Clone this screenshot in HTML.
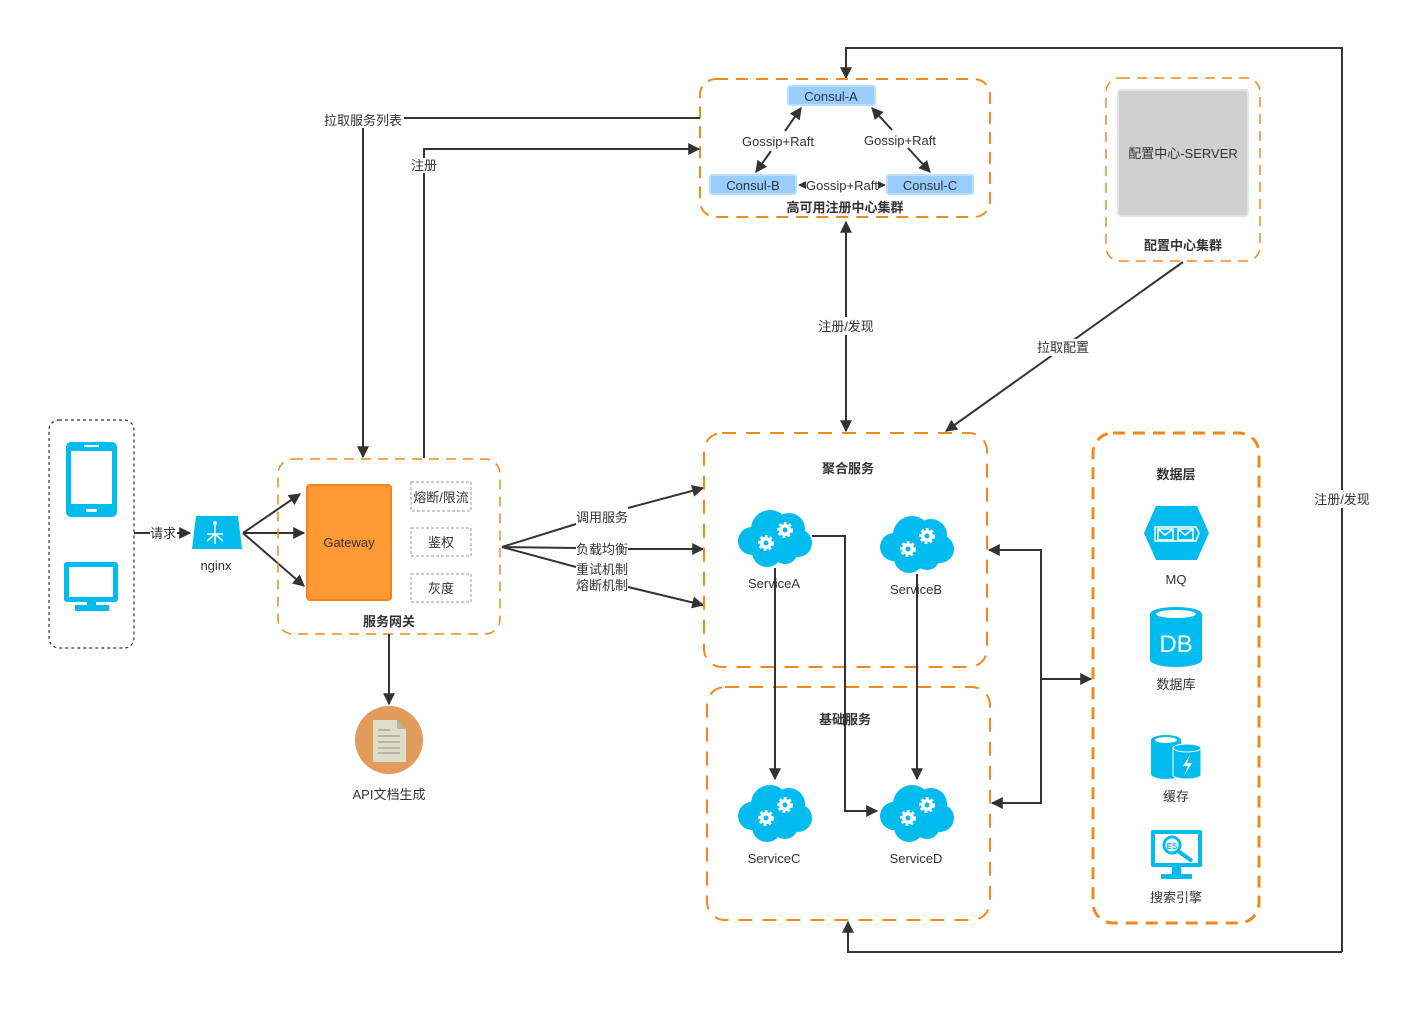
<!DOCTYPE html>
<html><head><meta charset="utf-8"><style>
html,body{margin:0;padding:0;background:#fff;}
svg{display:block;}
text{font-family:"Liberation Sans","Noto Sans CJK SC",sans-serif;font-size:13px;fill:#333;}
.b{font-weight:bold;}
</style></head><body>
<svg width="1404" height="1015" viewBox="0 0 1404 1015" xmlns="http://www.w3.org/2000/svg">
<defs>
<marker id="ar" viewBox="0 0 10 10" refX="9" refY="5" markerWidth="8" markerHeight="8" orient="auto-start-reverse" markerUnits="userSpaceOnUse">
<path d="M0,0 L10,5 L0,10 z" fill="#333"/></marker>
<marker id="ar2" viewBox="0 0 10 10" refX="9" refY="5" markerWidth="16" markerHeight="12" orient="auto-start-reverse" markerUnits="userSpaceOnUse">
<path d="M0,0 L10,5 L0,10 z" fill="#333"/></marker>
<g id="cloud">
<circle cx="15" cy="36" r="14" fill="#00bbee"/>
<circle cx="33" cy="24" r="19" fill="#00bbee"/>
<circle cx="52" cy="24" r="16" fill="#00bbee"/>
<circle cx="61" cy="38" r="14" fill="#00bbee"/>
<circle cx="30" cy="47" r="15" fill="#00bbee"/>
<circle cx="48" cy="46" r="13" fill="#00bbee"/>
<circle cx="29" cy="38" r="6" fill="#fff" stroke="#fff" stroke-width="4" stroke-dasharray="2.5 2"/>
<circle cx="29" cy="38" r="2.5" fill="#00bbee"/>
<circle cx="48" cy="25" r="6" fill="#fff" stroke="#fff" stroke-width="4" stroke-dasharray="2.5 2"/>
<circle cx="48" cy="25" r="2.5" fill="#00bbee"/>
</g>
</defs>

<!-- outer registration loop -->
<polyline points="1342,952 1342,48 846,48 846,78" fill="none" stroke="#333" stroke-width="2" marker-end="url(#ar2)"/>
<polyline points="1342,952 848,952 848,922" fill="none" stroke="#333" stroke-width="2" marker-end="url(#ar2)"/>
<rect x="1310" y="490" width="64" height="18" fill="#fff"/>
<text x="1342" y="504" text-anchor="middle">注册/发现</text>

<!-- consul cluster -->
<rect x="700" y="79" width="290" height="138" rx="16" fill="none" stroke="#f08a1c" stroke-width="2" stroke-dasharray="12 8"/>
<rect x="788" y="86" width="87" height="19" rx="2" fill="#99ccff" stroke="#bbdfff" stroke-width="2"/>
<text x="831" y="101" text-anchor="middle">Consul-A</text>
<rect x="710" y="175" width="86" height="19" rx="2" fill="#99ccff" stroke="#bbdfff" stroke-width="2"/>
<text x="753" y="190" text-anchor="middle">Consul-B</text>
<rect x="887" y="175" width="86" height="19" rx="2" fill="#99ccff" stroke="#bbdfff" stroke-width="2"/>
<text x="930" y="190" text-anchor="middle">Consul-C</text>
<line x1="785" y1="131" x2="801" y2="108" stroke="#333" stroke-width="2" marker-end="url(#ar2)"/>
<line x1="771" y1="151" x2="756" y2="172" stroke="#333" stroke-width="2" marker-end="url(#ar2)"/>
<text x="778" y="146" text-anchor="middle">Gossip+Raft</text>
<line x1="892" y1="130" x2="872" y2="108" stroke="#333" stroke-width="2" marker-end="url(#ar2)"/>
<line x1="908" y1="148" x2="930" y2="172" stroke="#333" stroke-width="2" marker-end="url(#ar2)"/>
<text x="900" y="145" text-anchor="middle">Gossip+Raft</text>
<line x1="803" y1="185" x2="799" y2="185" stroke="#333" stroke-width="1.5" marker-end="url(#ar)"/>
<line x1="880" y1="185" x2="885" y2="185" stroke="#333" stroke-width="1.5" marker-end="url(#ar)"/>
<text x="842" y="190" text-anchor="middle">Gossip+Raft</text>
<text x="845" y="212" text-anchor="middle" class="b">高可用注册中心集群</text>

<!-- config center -->
<rect x="1106" y="78" width="154" height="183" rx="14" fill="none" stroke="#f08a1c" stroke-width="1.5" stroke-dasharray="10 7"/>
<rect x="1118" y="90" width="130" height="126" rx="3" fill="#d0d0d0" stroke="#e4e4e4" stroke-width="2"/>
<text x="1183" y="158" text-anchor="middle">配置中心-SERVER</text>
<text x="1183" y="250" text-anchor="middle" class="b">配置中心集群</text>
<line x1="1183" y1="262" x2="946" y2="431" stroke="#333" stroke-width="2" marker-end="url(#ar2)"/>
<rect x="1036" y="339" width="56" height="17" fill="#fff"/>
<text x="1063" y="352" text-anchor="middle">拉取配置</text>

<!-- register/discover vertical -->
<line x1="846" y1="222" x2="846" y2="431" stroke="#333" stroke-width="2" marker-start="url(#ar2)" marker-end="url(#ar2)"/>
<rect x="815" y="317" width="62" height="18" fill="#fff"/>
<text x="846" y="331" text-anchor="middle">注册/发现</text>

<!-- pull service list / register -->
<polyline points="700,118 404,118" fill="none" stroke="#333" stroke-width="2"/>
<line x1="363" y1="128" x2="363" y2="457" stroke="#333" stroke-width="2" marker-end="url(#ar2)"/>
<text x="363" y="125" text-anchor="middle">拉取服务列表</text>
<polyline points="424,458 424,173" fill="none" stroke="#333" stroke-width="2"/>
<polyline points="424,158 424,149 699,149" fill="none" stroke="#333" stroke-width="2" marker-end="url(#ar2)"/>
<text x="424" y="170" text-anchor="middle">注册</text>

<!-- devices -->
<rect x="49" y="420" width="85" height="228" rx="10" fill="none" stroke="#333" stroke-width="1.2" stroke-dasharray="3 3"/>
<rect x="66" y="442" width="51" height="75" rx="5" fill="#00bbee"/>
<rect x="71" y="451" width="41" height="53" fill="#fff"/>
<rect x="84" y="445" width="15" height="2" fill="#fff"/>
<rect x="86" y="509" width="11" height="3" rx="1" fill="#fff"/>
<rect x="64" y="562" width="54" height="40" rx="3" fill="#00bbee"/>
<rect x="69" y="567" width="44" height="30" fill="#fff"/>
<rect x="87" y="601" width="9" height="5" fill="#00bbee"/>
<rect x="75" y="605" width="34" height="6" fill="#00bbee"/>

<line x1="134" y1="533" x2="190" y2="533" stroke="#333" stroke-width="2" marker-end="url(#ar2)"/>
<rect x="150" y="525" width="27" height="17" fill="#fff"/>
<text x="163" y="538" text-anchor="middle">请求</text>

<!-- nginx -->
<path d="M196,516 L238,516 L242,549 L192,549 Z" fill="#00bbee"/>
<g stroke="#fff" stroke-width="1.5" fill="none">
<line x1="215" y1="524" x2="215" y2="544"/>
<line x1="215" y1="534" x2="207" y2="541"/>
<line x1="215" y1="534" x2="223" y2="541"/>
<line x1="215" y1="534" x2="207" y2="534"/>
<line x1="215" y1="534" x2="223" y2="534"/>
</g>
<circle cx="215" cy="523" r="2" fill="#fff"/>
<text x="216" y="570" text-anchor="middle">nginx</text>

<line x1="243" y1="533" x2="300" y2="494" stroke="#333" stroke-width="2" marker-end="url(#ar2)"/>
<line x1="243" y1="533" x2="304" y2="533" stroke="#333" stroke-width="2" marker-end="url(#ar2)"/>
<line x1="243" y1="533" x2="304" y2="586" stroke="#333" stroke-width="2" marker-end="url(#ar2)"/>

<!-- gateway -->
<rect x="278" y="459" width="222" height="175" rx="15" fill="none" stroke="#f08a1c" stroke-width="1.5" stroke-dasharray="10 7"/>
<rect x="307" y="485" width="84" height="115" rx="3" fill="#ff9933" stroke="#f5841c" stroke-width="2"/>
<text x="349" y="547" text-anchor="middle">Gateway</text>
<rect x="411" y="482" width="60" height="29" fill="none" stroke="#999" stroke-dasharray="3 2"/>
<text x="441" y="502" text-anchor="middle">熔断/限流</text>
<rect x="411" y="528" width="60" height="28" fill="none" stroke="#999" stroke-dasharray="3 2"/>
<text x="441" y="547" text-anchor="middle">鉴权</text>
<rect x="411" y="574" width="60" height="28" fill="none" stroke="#999" stroke-dasharray="3 2"/>
<text x="441" y="593" text-anchor="middle">灰度</text>
<text x="389" y="626" text-anchor="middle" class="b">服务网关</text>

<line x1="389" y1="634" x2="389" y2="704" stroke="#333" stroke-width="2" marker-end="url(#ar2)"/>
<circle cx="389" cy="740" r="34" fill="#e39b5c"/>
<path d="M373,720 L397,720 L406,729 L406,762 L373,762 Z" fill="#deddca"/>
<path d="M397,720 L406,729 L397,729 Z" fill="#b5b4a0"/>
<g stroke="#a9a895" stroke-width="1.5"><line x1="378" y1="730" x2="390" y2="730"/><line x1="378" y1="736" x2="400" y2="736"/><line x1="378" y1="742" x2="400" y2="742"/><line x1="378" y1="748" x2="400" y2="748"/><line x1="378" y1="753" x2="400" y2="753"/></g>
<text x="389" y="799" text-anchor="middle">API文档生成</text>

<!-- gateway to services -->
<polyline points="502,547 576,524" fill="none" stroke="#333" stroke-width="2"/>
<line x1="628" y1="508" x2="703" y2="488" stroke="#333" stroke-width="2" marker-end="url(#ar2)"/>
<text x="602" y="522" text-anchor="middle">调用服务</text>
<line x1="502" y1="547" x2="576" y2="548" stroke="#333" stroke-width="2"/>
<line x1="628" y1="549" x2="703" y2="549" stroke="#333" stroke-width="2" marker-end="url(#ar2)"/>
<text x="602" y="554" text-anchor="middle">负载均衡</text>
<line x1="502" y1="547" x2="576" y2="567" stroke="#333" stroke-width="2"/>
<line x1="628" y1="587" x2="703" y2="605" stroke="#333" stroke-width="2" marker-end="url(#ar2)"/>
<text x="602" y="574" text-anchor="middle">重试机制</text>
<text x="602" y="590" text-anchor="middle">熔断机制</text>

<!-- service boxes -->
<rect x="704" y="433" width="283" height="234" rx="18" fill="none" stroke="#f08a1c" stroke-width="2" stroke-dasharray="14 10"/>
<text x="848" y="473" text-anchor="middle" class="b">聚合服务</text>
<rect x="707" y="687" width="283" height="233" rx="18" fill="none" stroke="#f08a1c" stroke-width="2" stroke-dasharray="14 10"/>
<text x="845" y="724" text-anchor="middle" class="b">基础服务</text>

<use href="#cloud" x="737" y="505"/>
<text x="774" y="588" text-anchor="middle">ServiceA</text>
<use href="#cloud" x="879" y="511"/>
<text x="916" y="594" text-anchor="middle">ServiceB</text>
<use href="#cloud" x="737" y="780"/>
<text x="774" y="863" text-anchor="middle">ServiceC</text>
<use href="#cloud" x="879" y="780"/>
<text x="916" y="863" text-anchor="middle">ServiceD</text>

<line x1="775" y1="568" x2="775" y2="779" stroke="#333" stroke-width="2" marker-end="url(#ar2)"/>
<polyline points="812,536 845,536 845,811 877,811" fill="none" stroke="#333" stroke-width="2" marker-end="url(#ar2)"/>
<line x1="917" y1="574" x2="917" y2="779" stroke="#333" stroke-width="2" marker-end="url(#ar2)"/>

<!-- right connectors -->
<polyline points="1041,679 1041,550 989,550" fill="none" stroke="#333" stroke-width="2" marker-end="url(#ar2)"/>
<polyline points="1041,679 1041,803 992,803" fill="none" stroke="#333" stroke-width="2" marker-end="url(#ar2)"/>
<line x1="1041" y1="679" x2="1091" y2="679" stroke="#333" stroke-width="2" marker-end="url(#ar2)"/>

<!-- data layer -->
<rect x="1093" y="433" width="166" height="490" rx="20" fill="none" stroke="#f08a1c" stroke-width="3" stroke-dasharray="12 8"/>
<text x="1176" y="479" text-anchor="middle" class="b">数据层</text>
<path d="M1156,506 L1197,506 L1209,533 L1197,560 L1156,560 L1144,533 Z" fill="#00bbee"/>
<path d="M1155,527 L1196,527 L1199,533 L1196,541 L1155,541 Z" fill="none" stroke="#fff" stroke-width="1.5"/>
<rect x="1158" y="529" width="15" height="11" fill="none" stroke="#fff" stroke-width="1.5"/>
<rect x="1178" y="529" width="15" height="11" fill="none" stroke="#fff" stroke-width="1.5"/>
<polyline points="1158,529 1165,535 1173,529" fill="none" stroke="#fff" stroke-width="1.5"/>
<polyline points="1178,529 1185,535 1193,529" fill="none" stroke="#fff" stroke-width="1.5"/>
<text x="1176" y="584" text-anchor="middle">MQ</text>
<path d="M1150,614 L1150,660 A26,7 0 0 0 1202,660 L1202,614 Z" fill="#00bbee"/>
<ellipse cx="1176" cy="614" rx="26" ry="7" fill="#00bbee"/>
<ellipse cx="1176" cy="614" rx="20" ry="4" fill="#fff"/>
<text x="1176" y="652" text-anchor="middle" style="font-size:24px;fill:#fff">DB</text>
<text x="1176" y="689" text-anchor="middle">数据库</text>
<path d="M1151,740 L1151,774 A15,5 0 0 0 1181,774 L1181,740 Z" fill="#00bbee"/>
<ellipse cx="1166" cy="740" rx="15" ry="5" fill="#00bbee"/>
<ellipse cx="1166" cy="740" rx="11" ry="3" fill="#fff"/>
<path d="M1173,748 L1173,775 A14,4 0 0 0 1201,775 L1201,748 Z" fill="#00bbee" stroke="#fff" stroke-width="1"/>
<ellipse cx="1187" cy="748" rx="14" ry="4" fill="#00bbee" stroke="#fff" stroke-width="1"/>
<path d="M1190,755 L1183,766 L1188,766 L1184,776 L1192,763 L1187,763 Z" fill="#fff"/>
<text x="1176" y="801" text-anchor="middle">缓存</text>
<rect x="1151" y="830" width="51" height="37" rx="2" fill="#00bbee"/>
<rect x="1155" y="834" width="43" height="29" fill="#fff"/>
<rect x="1172" y="867" width="9" height="7" fill="#00bbee"/>
<rect x="1161" y="874" width="31" height="5" fill="#00bbee"/>
<circle cx="1172" cy="845" r="8" fill="none" stroke="#00bbee" stroke-width="3"/>
<line x1="1178" y1="851" x2="1192" y2="861" stroke="#00bbee" stroke-width="4"/>
<text x="1172" y="849" text-anchor="middle" style="font-size:8px;fill:#00bbee;font-weight:bold">ES</text>
<text x="1176" y="902" text-anchor="middle">搜索引擎</text>
</svg>
</body></html>
